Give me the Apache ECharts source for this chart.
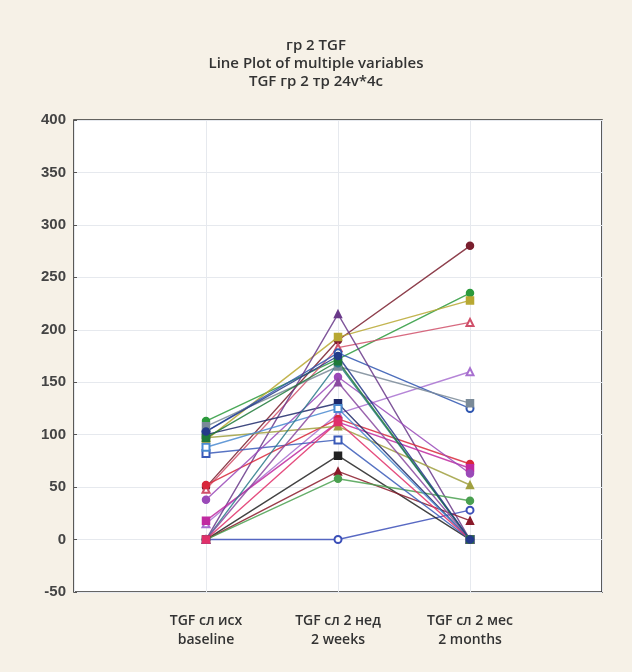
<!DOCTYPE html>
<html>
<head>
<meta charset="utf-8">
<script src="https://cdn.jsdelivr.net/npm/echarts@6/dist/echarts.min.js"></script>
<style>
  html, body { margin: 0; padding: 0; background: #f6f1e7; }
  #main { width: 632px; height: 672px; }
</style>
</head>
<body>
<div id="main"></div>
<script>
// categories (empty slots at both ends keep the plot padding)
var categories = ['', 'TGF сл исх\nbaseline', 'TGF сл 2 нед\n2 weeks', 'TGF сл 2 мес\n2 months', ''];

// each case: [baseline, 2 weeks, 2 months]
var case01 = [0, 0, 28];
var case02 = [50, 190, 280];
var case03 = [113, 172, 235];
var case04 = [95, 193, 228];
var case05 = [48, 183, 207];
var case06 = [15, 120, 160];
var case07 = [103, 178, 125];
var case08 = [108, 165, 130];
var case09 = [0, 215, 0];
var case10 = [0, 80, 0];
var case11 = [0, 65, 18];
var case12 = [0, 58, 37];
var case13 = [82, 95, 0];
var case14 = [52, 115, 72];
var case15 = [18, 112, 68];
var case16 = [38, 155, 63];
var case17 = [97, 108, 52];
var case18 = [100, 130, 0];
var case19 = [88, 125, 0];
var case20 = [0, 168, 0];
var case21 = [0, 150, 0];
var case22 = [0, 112, 0];
var case23 = [97, 170, 0];
var case24 = [103, 175, 0];

var cases = [case01, case02, case03, case04, case05, case06, case07, case08,
  case09, case10, case11, case12, case13, case14, case15, case16,
  case17, case18, case19, case20, case21, case22, case23, case24];

var colors = ['#3b4fb8', '#7a1f2e', '#2c9a3c', '#b8a832', '#d0506a', '#a870d0',
  '#2f56b0', '#7a8a98', '#6a3a8a', '#222222', '#8a1a2a', '#4aa050',
  '#3a5ab8', '#d8283c', '#c02aa0', '#9a4ab8', '#a0a040', '#1e2a6a',
  '#4a8ad0', '#2a7a8a', '#8a4aa0', '#e0306a', '#1f7a3a', '#243a8a'];

var symbols = ['emptyCircle', 'circle', 'circle', 'rect', 'emptyTriangle', 'emptyTriangle',
  'emptyCircle', 'rect', 'triangle', 'rect', 'triangle', 'circle',
  'emptyRect', 'circle', 'rect', 'circle', 'triangle', 'rect',
  'emptyRect', 'circle', 'triangle', 'rect', 'rect', 'circle'];

var series = cases.map(function (c, i) {
  return {
    name: 'v' + (i + 1),
    type: 'line',
    data: [null].concat(c).concat([null]),
    symbol: symbols[i],
    symbolSize: 7,
    lineStyle: { width: 1.4, color: colors[i], opacity: 0.85 },
    itemStyle: { color: colors[i], borderColor: colors[i], borderWidth: 1.5 },
    connectNulls: false
  };
});

var myChart = echarts.init(document.getElementById('main'));
var option = {
  backgroundColor: '#f6f1e7',
  animation: false,
  title: {
    text: 'гр 2 TGF\nLine Plot of multiple variables\nTGF гр 2 тр 24v*4c',
    left: 'center',
    top: 32,
    textStyle: {
      fontFamily: 'Open Sans',
      fontSize: 15,
      fontWeight: 600,
      color: '#333',
      lineHeight: 18
    }
  },
  grid: {
    left: 74,
    right: 30,
    top: 120,
    height: 472,
    show: true,
    backgroundColor: '#ffffff',
    borderColor: '#333',
    borderWidth: 1.6
  },
  xAxis: {
    type: 'category',
    data: categories,
    boundaryGap: false,
    axisLine: { show: false },
    axisTick: { show: false },
    axisLabel: {
      interval: 0,
      margin: 20,
      fontFamily: 'Open Sans',
      fontSize: 14,
      fontWeight: 600,
      color: '#333',
      lineHeight: 19
    },
    splitLine: { show: true, lineStyle: { color: '#e6e9ee', width: 1 } }
  },
  yAxis: {
    type: 'value',
    min: -50,
    max: 400,
    interval: 50,
    axisLine: { show: false },
    axisTick: { show: true, inside: true, length: 3, lineStyle: { color: '#555' } },
    axisLabel: {
      margin: 8,
      fontFamily: 'Liberation Sans',
      fontSize: 15,
      fontWeight: 'bold',
      color: '#444'
    },
    splitLine: { show: true, lineStyle: { color: '#e6e9ee', width: 1 } }
  },
  series: series
};
myChart.setOption(option);
</script>
</body>
</html>
